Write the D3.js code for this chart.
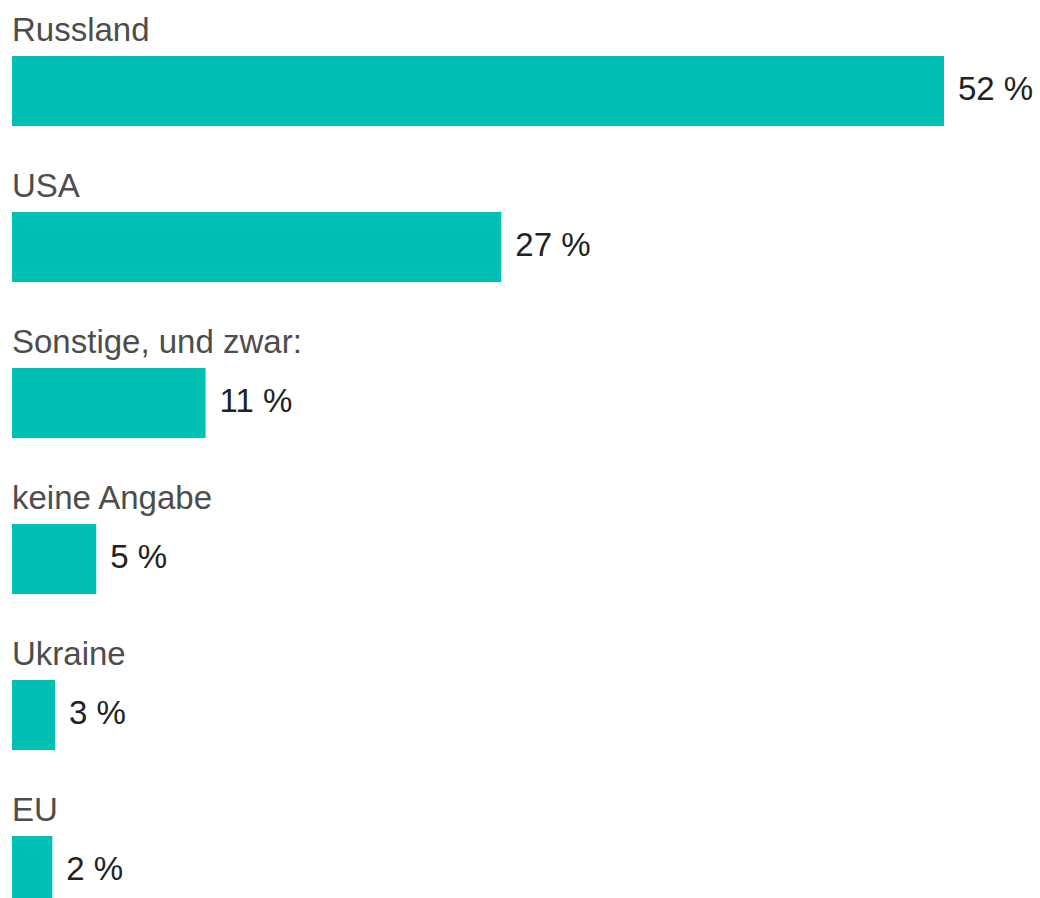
<!DOCTYPE html>
<html>
<head>
<meta charset="utf-8">
<script src="https://cdn.jsdelivr.net/npm/d3@7"></script>
<style>
  html, body { margin: 0; padding: 0; background: #fff; overflow: hidden; }
  #vis { width: 1040px; height: 898px; }
</style>
</head>
<body>
<div id="vis"></div>
<script>
// Daten
const kategorien = ["Russland", "USA", "Sonstige, und zwar:", "keine Angabe", "Ukraine", "EU"];
const werte = [52, 27.3, 10.8, 4.7, 2.4, 2.25];
const beschriftungen = ["52 %", "27 %", "11 %", "5 %", "3 %", "2 %"];

const dados = kategorien.map((k, i) => ({ kategorie: k, wert: werte[i], label: beschriftungen[i] }));

const width = 1040, height = 898;
const margins = { top: 0, left: 12 };

const svg = d3.select("#vis")
  .append("svg")
  .attr("width", width)
  .attr("height", height);

// Escalas
const xScale = d3.scaleLinear()
  .domain([0, 52])
  .range([margins.left, 944]);

const yScale = d3.scaleBand()
  .domain(kategorien)
  .range([margins.top, margins.top + 156 * kategorien.length])
  .paddingInner(0);

const grupos = svg.selectAll("g.row")
  .data(dados)
  .join("g")
  .attr("class", "row")
  .attr("transform", d => `translate(0, ${yScale(d.kategorie)})`);

// Kategorie
grupos.append("text")
  .attr("x", margins.left)
  .attr("y", 40.5)
  .attr("font-family", "'Liberation Sans', Arial, sans-serif")
  .attr("font-size", "33px")
  .attr("fill", "#4d4d4d")
  .text(d => d.kategorie);

// Balken
grupos.append("rect")
  .attr("x", xScale(0))
  .attr("y", 56)
  .attr("width", d => xScale(d.wert) - xScale(0))
  .attr("height", 70)
  .attr("fill", "#00bfb3");

// Wert
grupos.append("text")
  .attr("x", d => xScale(d.wert) + 14)
  .attr("y", 99.5)
  .attr("font-family", "'Liberation Sans', Arial, sans-serif")
  .attr("font-size", "33px")
  .attr("fill", "#222")
  .text(d => d.label);
</script>
</body>
</html>
